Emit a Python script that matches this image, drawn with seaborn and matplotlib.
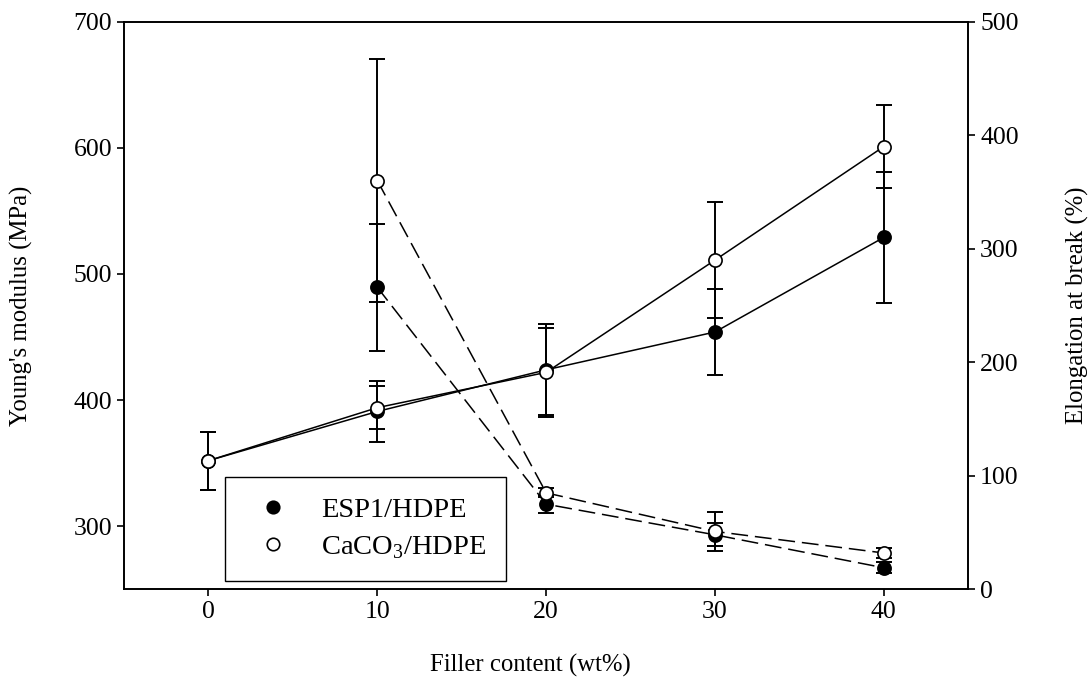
import numpy as np
import pandas as pd
import matplotlib
matplotlib.use("Agg")
import matplotlib.pyplot as plt
from matplotlib.lines import Line2D
import seaborn as sns

# Young's modulus (MPa), left axis
filler = [0, 10, 20, 30, 40]
esp1_modulus = [352, 391, 424, 454, 529]
esp1_modulus_err = [23, 24, 36, 34, 52]
caco3_modulus = [352, 394, 422, 511, 601]
caco3_modulus_err = [23, 17, 35, 46, 33]

# Elongation at break (%), right axis
filler_elong = [10, 20, 30, 40]
esp1_elong = [266, 75, 48, 19]
esp1_elong_err = [56, 8, 10, 5]
caco3_elong = [360, 85, 51, 32]
caco3_elong_err = [107, 4, 17, 4]

sns.set_style("ticks")
plt.rcParams['font.family'] = ['Liberation Serif', 'DejaVu Serif']
plt.rcParams['mathtext.fontset'] = 'custom'
plt.rcParams['mathtext.rm'] = 'Liberation Serif'
plt.rcParams['text.color'] = 'black'
plt.rcParams['axes.labelcolor'] = 'black'
plt.rcParams['axes.linewidth'] = 1.2

fs = 18.5
lfs = 17.8
dash = (0, (11, 4.5))

fig, ax = plt.subplots(figsize=(10.91, 6.90), dpi=100)
fig.subplots_adjust(left=0.1137, right=0.8875, top=0.9686, bottom=0.1459)
ax2 = ax.twinx()

styles = [("ESP1/HDPE", "black"), (r"CaCO$_3$/HDPE", "white")]

mod = pd.DataFrame({"x": filler * 2,
                    "y": esp1_modulus + caco3_modulus,
                    "err": esp1_modulus_err + caco3_modulus_err,
                    "s": ["esp1"] * 5 + ["caco3"] * 5})
elo = pd.DataFrame({"x": filler_elong * 2,
                    "y": esp1_elong + caco3_elong,
                    "err": esp1_elong_err + caco3_elong_err,
                    "s": ["esp1"] * 4 + ["caco3"] * 4})

for (name, fc), key in zip(styles, ["esp1", "caco3"]):
    d = mod[mod.s == key]
    ax.errorbar(d.x, d.y, yerr=d.err, fmt='none', ecolor='black',
                elinewidth=1.4, capsize=6, capthick=1.4, zorder=2)
    sns.lineplot(x=d.x.values, y=d.y.values, ax=ax, color='black', lw=1.1,
                 marker='o', markersize=9.5, markerfacecolor=fc,
                 markeredgecolor='black', markeredgewidth=1.2, zorder=3)
    d = elo[elo.s == key]
    ax2.errorbar(d.x, d.y, yerr=d.err, fmt='none', ecolor='black',
                 elinewidth=1.4, capsize=6, capthick=1.4, zorder=2)
    sns.lineplot(x=d.x.values, y=d.y.values, ax=ax2, color='black', lw=1.1,
                 linestyle=dash, marker='o', markersize=9.5, markerfacecolor=fc,
                 markeredgecolor='black', markeredgewidth=1.2, zorder=3)

ax.set_xlim(-5, 45)
ax.set_xticks(filler)
ax.set_ylim(250, 700)
ax.set_yticks([300, 400, 500, 600, 700])
ax2.set_ylim(0, 500)
ax2.set_yticks([0, 100, 200, 300, 400, 500])

for a in (ax, ax2):
    a.tick_params(direction='out', length=5, width=1.2, labelsize=fs, colors='black')
    for sp in a.spines.values():
        sp.set_visible(True)
        sp.set_color('black')
        sp.set_linewidth(1.2)

ax.set_xlabel("Filler content (wt%)", fontsize=lfs)
ax.xaxis.set_label_coords(0.481, -0.113)
ax.set_ylabel("Young's modulus (MPa)", fontsize=lfs, labelpad=29)
ax2.set_ylabel("Elongation at break (%)", fontsize=lfs, labelpad=34)

handles = [Line2D([], [], ls='none', marker='o', markersize=9, color='black',
                  markerfacecolor=fc, markeredgewidth=1.2) for _, fc in styles]
leg = ax2.legend(handles, [n for n, _ in styles], loc='lower left',
                 bbox_to_anchor=(0.1196, 0.0152), fontsize=20.5,
                 frameon=True, fancybox=False, framealpha=1, edgecolor='black',
                 borderpad=0.7, handlelength=2.0, handletextpad=0.68,
                 labelspacing=0.4, borderaxespad=0)
leg.get_frame().set_linewidth(1.0)

fig.savefig("out.png", dpi=100)
